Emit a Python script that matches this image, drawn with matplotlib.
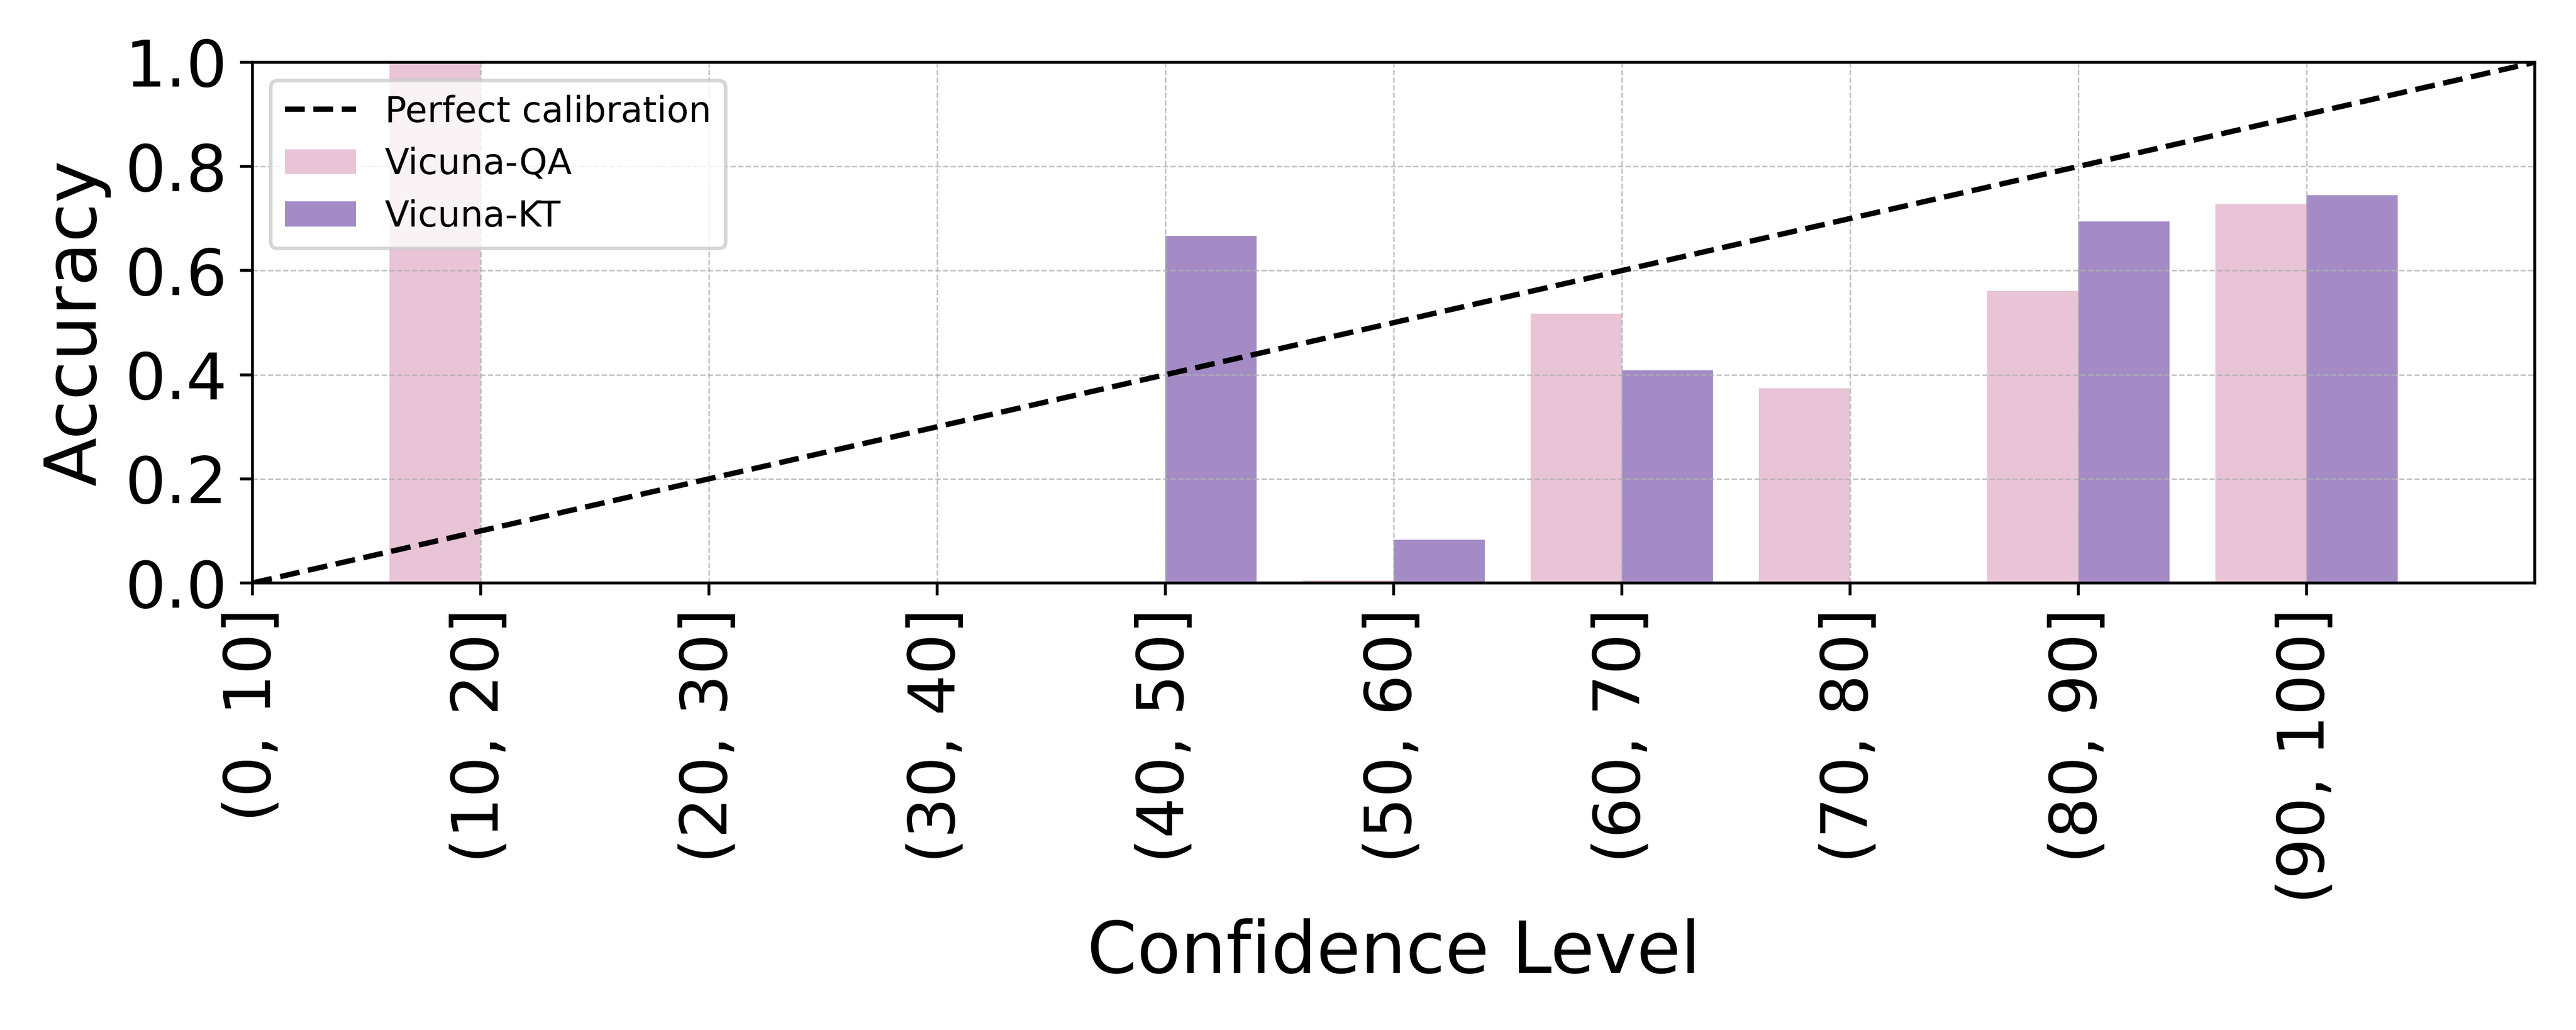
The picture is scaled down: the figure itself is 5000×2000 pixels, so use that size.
import matplotlib
matplotlib.use('Agg')
from matplotlib import pyplot as plt
import numpy as np

bins = ['(0, 10]', '(10, 20]', '(20, 30]', '(30, 40]', '(40, 50]',
        '(50, 60]', '(60, 70]', '(70, 80]', '(80, 90]', '(90, 100]']
tick_pos = np.arange(10) / 10

# accuracy per confidence bin
acc_qa = [0, 1.0, 0, 0, 0, 0.005, 0.517, 0.374, 0.561, 0.728]
acc_kt = [0, 0, 0, 0, 0.667, 0.083, 0.409, 0, 0.694, 0.745]

w = 0.04
fig, ax = plt.subplots(figsize=(10, 4), dpi=500)
ax.plot([0, 1], [0, 1], 'k--', label='Perfect calibration')
ax.bar(tick_pos - w / 2, acc_qa, width=w, color='#e8c4d6', label='Vicuna-QA')
ax.bar(tick_pos + w / 2, acc_kt, width=w, color='#a48bc6', label='Vicuna-KT')

ax.set_xlim(0, 1)
ax.set_ylim(0, 1)
ax.set_xticks(tick_pos)
ax.set_xticklabels(bins, rotation=90, fontsize=18)
ax.set_yticks(np.arange(6) / 5)
ax.tick_params(axis='y', labelsize=18)
ax.set_xlabel('Confidence Level', fontsize=20)
ax.set_ylabel('Accuracy', fontsize=20)
ax.grid(True, linestyle='--', linewidth=0.4, alpha=0.8)
ax.legend(loc='upper left', fontsize=10)

plt.subplots_adjust(left=0.098, right=0.984, top=0.9395, bottom=0.434)
plt.savefig('out.png', dpi=500)
